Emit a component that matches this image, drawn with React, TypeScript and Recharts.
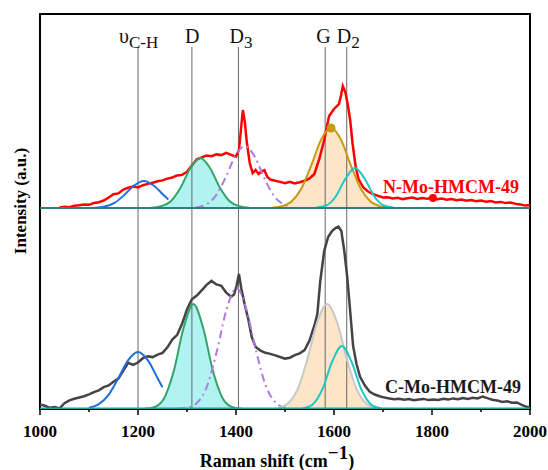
import React from 'react';
import { ComposedChart, Line, Area, XAxis, YAxis, ReferenceLine, ReferenceArea, ReferenceDot } from 'recharts';

// ---- Measured spectrum: N-Mo-HMCM-49 (upper panel) ----
const shiftN = [1040,1050,1060,1070,1080,1090,1100,1110,1120,1130,1140,1150,1160,1170,1180,1190,1200,1210,1220,1230,1240,1250,1260,1270,1280,1290,1300,1310,1320,1330,1340,1350,1360,1370,1380,1390,1400,1406,1410,1414,1418,1422,1428,1434,1440,1446,1452,1458,1464,1470,1480,1490,1500,1510,1520,1530,1540,1550,1560,1570,1580,1590,1600,1610,1614,1618,1623,1628,1633,1638,1644,1650,1660,1670,1680,1690,1700,1710,1720,1730,1740,1750,1760,1770,1780,1790,1800,1810,1820,1830,1840,1850,1860,1870,1880,1890,1900,1910,1920,1930,1940,1950,1960,1970,1980,1990,2000];
const intensityN = [0.5,1.2,0.8,2.2,2.8,3.6,3.2,5.0,5.8,7.5,10.5,13.8,14.6,18.5,20.2,21.4,20.6,22.8,24.1,25.2,26.8,27.6,29.4,30.5,32.6,33.1,36.2,42.5,48.7,50.6,52.4,51.8,53.6,52.9,55.1,53.2,51.4,58,78,98,86,66,45,35,38,34,36.5,37.8,31,28.5,27.2,26.1,24.8,26.3,24.6,25.8,27.2,29.5,34,49,68,92,99,104,112,122,116,104,88,64,42,29,20.5,16.2,13.8,12.1,10.5,10.8,9.6,10.2,8.9,9.8,10.4,9.1,10.0,9.3,10.1,8.7,9.5,8.2,9.0,7.8,8.5,7.2,7.9,6.8,7.4,6.2,6.9,5.6,6.1,4.9,5.5,4.2,3.6,2.4,3.0];

// ---- Measured spectrum: C-Mo-HMCM-49 (lower panel) ----
const shiftC = [1000,1010,1020,1030,1040,1050,1060,1070,1080,1090,1100,1110,1120,1130,1140,1150,1160,1170,1180,1190,1200,1210,1220,1230,1240,1250,1260,1270,1280,1290,1300,1310,1320,1330,1340,1350,1360,1370,1380,1390,1396,1401,1406,1411,1418,1425,1432,1440,1450,1460,1470,1480,1490,1500,1510,1520,1530,1540,1550,1560,1566,1572,1580,1588,1596,1603,1609,1615,1621,1627,1633,1639,1646,1653,1663,1673,1683,1693,1703,1713,1723,1733,1743,1753,1763,1773,1783,1793,1803,1813,1823,1833,1843,1853,1863,1873,1883,1893,1903,1913,1923,1933,1943,1953,1963,1973,1983,1993,2000];
const intensityC = [4.5,3.2,1.2,2.0,0.6,5.8,8.6,10.2,11.5,12.8,14.6,16.9,18.7,21.8,23.6,27.2,30.5,38.4,46.2,44.1,46.5,50.8,52.6,51.9,54.3,56.1,61.7,69.5,74.2,85.3,99.6,109.8,113.4,118.7,124.2,128.1,124.6,123.2,116.4,112.3,114.5,123,135,120,104,90,72,62,58.4,56.2,55.1,53.6,52.0,50.4,51.3,53.8,55.7,58.9,68.4,83.5,95,128,158,172,178,181,182.5,178,158,132,98,63,45,32.5,23.4,17.2,14.5,12.8,11.4,10.6,9.8,10.3,9.2,9.9,8.7,9.5,10.1,8.9,9.6,9.0,10.2,9.4,10.6,9.8,11.0,10.1,11.2,10.5,12.4,10.9,9.3,8.6,7.0,7.8,6.2,6.6,4.1,2.2,1.5];

// ---- Fitted bands, upper panel ----
const vchTopX = [1112,1132,1152,1172,1192,1212,1232,1252,1262];
const vchTopY = [0.3,1.4,5.1,13,22.5,27,22.5,13,8.5];
const dTopX = [1227,1247,1267,1287,1307,1327,1347,1367,1387,1407,1427];
const dTopY = [0.2,1.8,6.8,20.5,40,50,40,20.5,6.8,1.8,0.2];
const d3TopX = [1318,1338,1358,1378,1398,1418,1438,1458,1478,1498,1508];
const d3TopY = [0.6,3.3,11.8,29.6,51.5,62,51.5,29.6,11.8,3.3,1.5];
const gTopX = [1474,1494,1514,1534,1554,1574,1594,1614,1634,1654,1674,1694,1714];
const gTopY = [0.3,1.8,6.8,20,43.2,68.6,80,68.6,43.2,20,6.8,1.8,0.3];
const d2TopX = [1563,1583,1603,1623,1643,1663,1683,1703,1723];
const d2TopY = [0.24,2.2,11,29,40,29,11,2.2,0.24];

// ---- Fitted bands, lower panel ----
const vchBotX = [1100,1120,1140,1160,1180,1200,1220,1240,1250];
const vchBotY = [1.2,4.8,14.2,30.8,48.9,57,48.9,30.8,21.7];
const dBotX = [1213,1233,1253,1273,1293,1313,1333,1353,1373,1393,1413];
const dBotY = [0.2,1.8,10.5,38,81,105,81,38,10.5,1.8,0.2];
const d3BotX = [1281,1301,1321,1341,1361,1381,1401,1421,1441,1461,1481,1501];
const d3BotY = [0.2,1.2,6.4,23,58,100,121,100,58,23,6.4,1.2];
const gBotX = [1486,1506,1526,1546,1566,1586,1606,1626,1646,1666,1686];
const gBotY = [1.1,5.6,20,50.4,87,105,87,50.4,20,5.6,1.1];
const d2BotX = [1536,1556,1576,1596,1616,1636,1656,1676,1696];
const d2BotY = [0.55,4.4,19.3,47,63,47,19.3,4.4,0.55];

// ---- Band markers ----
const bandShift = [1200, 1310, 1405, 1582, 1626];
const bandMain = ['\u03C5', 'D', 'D', 'G', 'D'];
const bandSub = ['C-H', '', '3', '', '2'];

// ---- Axis ----
const xTicks = [1000,1100,1200,1300,1400,1500,1600,1700,1800,1900,2000];
const sampleNames = ['N-Mo-HMCM-49', 'C-Mo-HMCM-49'];
const markerTop = [{ x: 1802, y: 10 }, { x: 1594, y: 80 }];

const seriesList: [string, number[], number[]][] = [
  ['n', shiftN, intensityN], ['c', shiftC, intensityC],
  ['vchT', vchTopX, vchTopY], ['dT', dTopX, dTopY], ['d3T', d3TopX, d3TopY], ['gT', gTopX, gTopY], ['d2T', d2TopX, d2TopY],
  ['vchB', vchBotX, vchBotY], ['dB', dBotX, dBotY], ['d3B', d3BotX, d3BotY], ['gB', gBotX, gBotY], ['d2B', d2BotX, d2BotY],
];

function buildTable() {
  const m = new Map<number, any>();
  for (const [key, xs, ys] of seriesList) {
    xs.forEach((x, i) => {
      const r = m.get(x) ?? { x };
      r[key] = ys[i];
      m.set(x, r);
    });
  }
  return [...m.values()].sort((a, b) => a.x - b.x);
}
const table = buildTable();

const SERIF = '"Liberation Serif", "Times New Roman", serif';
const labelOffsets = [-19, -7, -9, -9, -10];

const XTick = (props: any) => {
  const { x, y, payload } = props;
  const major = payload.value % 200 === 0;
  return (
    <g>
      <line x1={x} x2={x} y1={y} y2={y + (major ? 6 : 3)} stroke="#000" strokeWidth={1.5} />
      {major && (
        <text x={x} y={y + 28} textAnchor="middle" fontFamily={SERIF} fontWeight="bold" fontSize={17} fill="#000">
          {payload.value}
        </text>
      )}
    </g>
  );
};

const XTitle = () => (
  <text x={277} y={467} textAnchor="middle" fontFamily={SERIF} fontWeight="bold" fontSize={18} fill="#000">
    Raman shift (cm
    <tspan dy={-8} fontSize={19}>{'\u22121'}</tspan>
    <tspan dy={8}>)</tspan>
  </text>
);

const YTitle = () => (
  <text x={26} y={201} transform="rotate(-90, 26, 201)" textAnchor="middle" fontFamily={SERIF} fontWeight="bold" fontSize={17} fill="#000">
    Intensity (a.u.)
  </text>
);

const bandLabel = (i: number) => (props: any) => {
  const vb = props.viewBox || {};
  const x = vb.x + labelOffsets[i];
  return (
    <text x={x} y={43} fontFamily={SERIF} fontSize={20} fill="#111">
      {bandMain[i]}
      {bandSub[i] && <tspan dy={5} fontSize={17}>{bandSub[i]}</tspan>}
    </text>
  );
};

const sampleLabel = (i: number) => (props: any) => {
  const vb = props.viewBox || {};
  return (
    <text x={i === 0 ? 383 : 385} y={vb.y - 15} fontFamily={SERIF} fontWeight="bold" fontSize={18} fill={i === 0 ? '#ff0000' : '#1a1a1a'}>
      {sampleNames[i]}
    </text>
  );
};

export default function App() {
  return (
    <div style={{ position: 'absolute', left: 0, top: 0, width: 548, height: 470, background: '#fff' }}>
      <ComposedChart width={548} height={470} data={table} margin={{ top: 14, right: 18, bottom: 21, left: 0 }}>
        <XAxis dataKey="x" type="number" domain={[1000, 2000]} ticks={xTicks} allowDataOverflow
          axisLine={false} tickLine={false} tickSize={0} tickMargin={0} height={40} tick={<XTick />} interval={0}
          label={{ content: () => <XTitle /> }} />
        <YAxis yAxisId="b" type="number" domain={[0, 395]} allowDataOverflow width={40}
          tick={false} axisLine={false} tickLine={false} label={{ content: () => <YTitle /> }} />
        <YAxis yAxisId="t" type="number" domain={[-201, 194]} allowDataOverflow hide />

        {/* filled bands */}
        <Area yAxisId="t" dataKey="dT" type="monotone" baseValue={0} stroke="none" fill="#8eeeea" fillOpacity={0.7} connectNulls isAnimationActive={false} />
        <Area yAxisId="t" dataKey="gT" type="monotone" baseValue={0} stroke="none" fill="#fbd6a2" fillOpacity={0.6} connectNulls isAnimationActive={false} />
        <Area yAxisId="b" dataKey="dB" type="monotone" baseValue={0} stroke="none" fill="#8eeeea" fillOpacity={0.7} connectNulls isAnimationActive={false} />
        <Area yAxisId="b" dataKey="gB" type="monotone" baseValue={0} stroke="none" fill="#fbd6a2" fillOpacity={0.6} connectNulls isAnimationActive={false} />

        {bandShift.map((s, i) => (
          <ReferenceLine key={s} yAxisId="b" segment={[{ x: s, y: 0 }, { x: s, y: 362 }]} stroke="#666" strokeWidth={1} label={{ content: bandLabel(i) }} />
        ))}

        {/* measured spectra */}
        <Line yAxisId="t" dataKey="n" type="linear" stroke="#ff0000" strokeWidth={2.5} dot={false} connectNulls isAnimationActive={false} />
        <Line yAxisId="b" dataKey="c" type="linear" stroke="#444" strokeWidth={2.5} dot={false} connectNulls isAnimationActive={false} />

        {/* fitted band outlines */}
        <Line yAxisId="t" dataKey="vchT" type="monotone" stroke="#1f6fd6" strokeWidth={2} dot={false} connectNulls isAnimationActive={false} />
        <Line yAxisId="t" dataKey="dT" type="monotone" stroke="#34a36a" strokeWidth={2} dot={false} connectNulls isAnimationActive={false} />
        <Line yAxisId="t" dataKey="d3T" type="monotone" stroke="#b07ae6" strokeWidth={2} strokeDasharray="8 4 2 4" dot={false} connectNulls isAnimationActive={false} />
        <Line yAxisId="t" dataKey="gT" type="monotone" stroke="#c8980e" strokeWidth={2} dot={false} connectNulls isAnimationActive={false} />
        <Line yAxisId="t" dataKey="d2T" type="monotone" stroke="#1ec6c6" strokeWidth={2} dot={false} connectNulls isAnimationActive={false} />

        <Line yAxisId="b" dataKey="vchB" type="monotone" stroke="#1f6fd6" strokeWidth={2} dot={false} connectNulls isAnimationActive={false} />
        <Line yAxisId="b" dataKey="dB" type="monotone" stroke="#34a36a" strokeWidth={2} dot={false} connectNulls isAnimationActive={false} />
        <Line yAxisId="b" dataKey="d3B" type="monotone" stroke="#b07ae6" strokeWidth={2} strokeDasharray="8 4 2 4" dot={false} connectNulls isAnimationActive={false} />
        <Line yAxisId="b" dataKey="gB" type="monotone" stroke="#c8c8c8" strokeWidth={2} dot={false} connectNulls isAnimationActive={false} />
        <Line yAxisId="b" dataKey="d2B" type="monotone" stroke="#1ec6c6" strokeWidth={2} dot={false} connectNulls isAnimationActive={false} />

        <ReferenceDot yAxisId="t" x={markerTop[0].x} y={markerTop[0].y} r={4} fill="#ff0000" stroke="none" />
        <ReferenceDot yAxisId="t" x={markerTop[1].x} y={markerTop[1].y} r={4.5} fill="#c8980e" stroke="none" />

        {/* frame and baselines */}
        <ReferenceArea yAxisId="b" x1={1000} x2={2000} y1={0} y2={395} fill="none" stroke="#000" strokeWidth={2} ifOverflow="visible" />
        <ReferenceLine yAxisId="t" y={0} stroke="#2b7f7f" strokeWidth={2.2} label={{ content: sampleLabel(0) }} />
        <ReferenceLine yAxisId="b" y={0.8} stroke="#2b9a9a" strokeWidth={1.5} label={{ content: sampleLabel(1) }} />
      </ComposedChart>
    </div>
  );
}
